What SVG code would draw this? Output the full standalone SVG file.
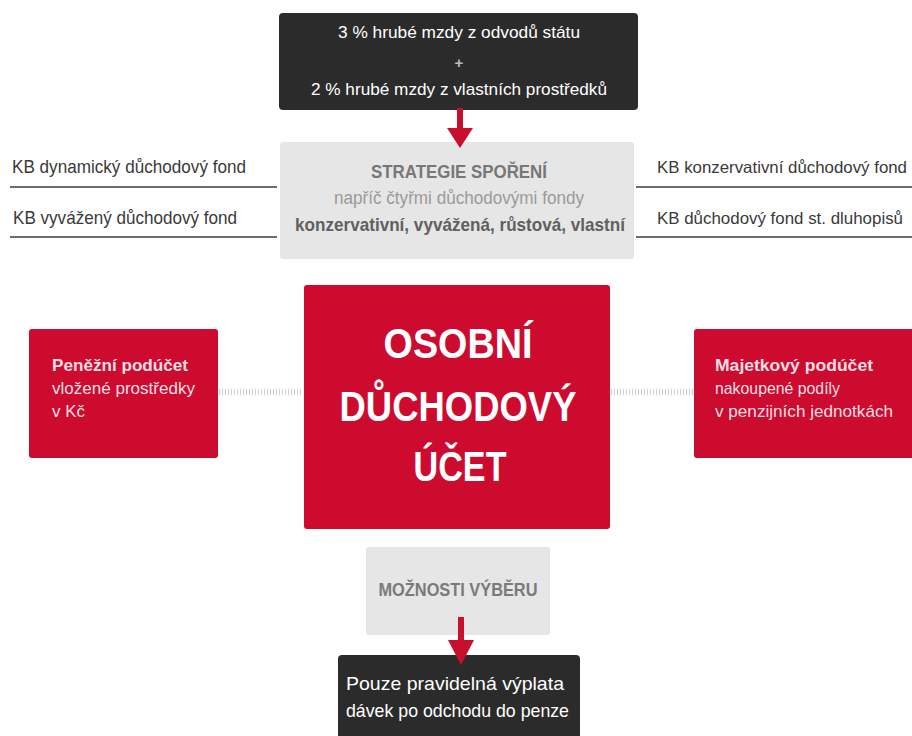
<svg xmlns="http://www.w3.org/2000/svg" width="912" height="736" viewBox="0 0 912 736">
<defs>
<style>
text{font-family:"Liberation Sans",Arial,sans-serif}
.dark{fill:#2b2b2b}
.grey{fill:#e6e6e6}
.red{fill:#cc0b2f}
.w{fill:#ffffff}
.lbl{fill:#3a3a3a;font-size:19px}
.lblr{fill:#3a3a3a;font-size:16.5px}
.sub{fill:#f6dfe3;font-size:17px}
.rule{stroke:#6e6e6e;stroke-width:2;fill:none}
.dot{stroke:#cfcfcf;stroke-width:6;stroke-dasharray:1 2;fill:none}
.arr{fill:#c8102e}
</style>
</defs>

<g id="funding">
<rect class="dark" x="279" y="13" width="359" height="97" rx="4"/>
<text class="w" x="459" y="38" font-size="17" text-anchor="middle" textLength="242" lengthAdjust="spacingAndGlyphs">3 % hrubé mzdy z odvodů státu</text>
<text x="459" y="68" font-size="15" fill="#bdbdbd" text-anchor="middle" font-weight="bold">+</text>
<text class="w" x="459" y="95" font-size="17" text-anchor="middle" textLength="296" lengthAdjust="spacingAndGlyphs">2 % hrubé mzdy z vlastních prostředků</text>
</g>

<g id="strategie">
<rect class="grey" x="280" y="142" width="354" height="117" rx="3"/>
<text x="459" y="178" font-size="18" font-weight="bold" fill="#777" text-anchor="middle" textLength="176" lengthAdjust="spacingAndGlyphs">STRATEGIE SPOŘENÍ</text>
<text x="459" y="204" font-size="18" fill="#9a9a9a" text-anchor="middle" textLength="250" lengthAdjust="spacingAndGlyphs">napříč čtyřmi důchodovými fondy</text>
<text x="460" y="231" font-size="19" font-weight="bold" fill="#606060" text-anchor="middle" textLength="330" lengthAdjust="spacingAndGlyphs">konzervativní, vyvážená, růstová, vlastní</text>
</g>

<g id="fund-dynamic">
<text class="lbl" x="12" y="173" textLength="234" lengthAdjust="spacingAndGlyphs">KB dynamický důchodový fond</text>
</g>
<g id="fund-balanced">
<text class="lbl" x="13" y="224" textLength="224" lengthAdjust="spacingAndGlyphs">KB vyvážený důchodový fond</text>
</g>
<g id="fund-conservative">
<text class="lblr" x="657" y="173" textLength="250" lengthAdjust="spacingAndGlyphs">KB konzervativní důchodový fond</text>
</g>
<g id="fund-bonds">
<text class="lblr" x="657" y="224" textLength="246" lengthAdjust="spacingAndGlyphs">KB důchodový fond st. dluhopisů</text>
</g>

<g id="ucet">
<rect class="red" x="304" y="285" width="306" height="244" rx="3"/>
<text class="w" x="458" y="358" font-size="43" font-weight="bold" text-anchor="middle" textLength="149" lengthAdjust="spacingAndGlyphs">OSOBNÍ</text>
<text class="w" x="458" y="421" font-size="43" font-weight="bold" text-anchor="middle" textLength="237" lengthAdjust="spacingAndGlyphs">DŮCHODOVÝ</text>
<text class="w" x="460" y="481" font-size="43" font-weight="bold" text-anchor="middle" textLength="93" lengthAdjust="spacingAndGlyphs">ÚČET</text>
</g>

<g id="penezni">
<rect class="red" x="29" y="329" width="189" height="129" rx="3"/>
<text class="sub" x="52" y="371" font-weight="bold" textLength="136" lengthAdjust="spacingAndGlyphs">Peněžní podúčet</text>
<text class="sub" x="52" y="394" textLength="143" lengthAdjust="spacingAndGlyphs">vložené prostředky</text>
<text class="sub" x="52" y="417" textLength="33" lengthAdjust="spacingAndGlyphs">v Kč</text>
</g>

<g id="majetkovy">
<rect class="red" x="694" y="329" width="222" height="129" rx="3"/>
<text class="sub" x="715" y="371" font-weight="bold" textLength="158" lengthAdjust="spacingAndGlyphs">Majetkový podúčet</text>
<text class="sub" x="715" y="394" textLength="125" lengthAdjust="spacingAndGlyphs">nakoupené podíly</text>
<text class="sub" x="715" y="417" textLength="178" lengthAdjust="spacingAndGlyphs">v penzijních jednotkách</text>
</g>

<g id="moznosti">
<rect class="grey" x="366" y="547" width="184" height="88" rx="3"/>
<text x="458" y="596" font-size="18" font-weight="bold" fill="#7a7a7a" text-anchor="middle" textLength="159" lengthAdjust="spacingAndGlyphs">MOŽNOSTI VÝBĚRU</text>
</g>

<g id="vyplata">
<rect class="dark" x="338" y="655" width="242" height="90" rx="4"/>
<text class="w" x="346" y="690" font-size="19" textLength="218" lengthAdjust="spacingAndGlyphs">Pouze pravidelná výplata</text>
<text class="w" x="346" y="717" font-size="19" textLength="223" lengthAdjust="spacingAndGlyphs">dávek po odchodu do penze</text>
</g>

<g id="connectors">
<line class="rule" x1="10" y1="187" x2="277" y2="187"/>
<line class="rule" x1="10" y1="237" x2="277" y2="237"/>
<line class="rule" x1="636" y1="187" x2="912" y2="187"/>
<line class="rule" x1="636" y1="237" x2="912" y2="237"/>
<line class="dot" x1="219" y1="392" x2="303" y2="392"/>
<line class="dot" x1="611" y1="392" x2="693" y2="392"/>
<rect class="arr" x="457" y="108" width="6" height="22"/>
<polygon class="arr" points="447,128 473,128 460,148"/>
<rect class="arr" x="458" y="617" width="6" height="24"/>
<polygon class="arr" points="448,640 474,640 461,665"/>
</g>
</svg>
